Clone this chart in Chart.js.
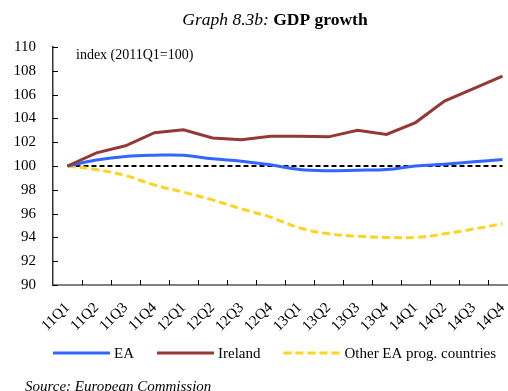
<!DOCTYPE html>
<html>
<head>
<meta charset="utf-8">
<script src="https://cdn.jsdelivr.net/npm/chart.js@4.4.1/dist/chart.umd.min.js"></script>
<style>
  html, body { margin: 0; padding: 0; background: #fff; overflow: hidden; }
  #wrap { position: relative; width: 508px; height: 391px; overflow: hidden; }
  #wrap canvas { position: absolute; left: 0; top: 0; }
</style>
</head>
<body>
<div id="wrap"><canvas id="gdp" width="530" height="391"></canvas></div>
<script>
// quarterly GDP index, 2011Q1 = 100
const quarters = ["11Q1", "11Q2", "11Q3", "11Q4", "12Q1", "12Q2", "12Q3", "12Q4",
                  "13Q1", "13Q2", "13Q3", "13Q4", "14Q1", "14Q2", "14Q3", "14Q4"];
const eaIndex = [100, 100.5, 100.8, 100.9, 100.9, 100.6, 100.4, 100.1,
                 99.7, 99.6, 99.65, 99.7, 100.0, 100.15, 100.35, 100.55];
const irelandIndex = [100, 101.1, 101.7, 102.8, 103.05, 102.35, 102.2, 102.5,
                      102.5, 102.45, 103.0, 102.65, 103.65, 105.45, 106.5, 107.55];
const otherProgIndex = [100, 99.7, 99.2, 98.4, 97.8, 97.15, 96.4, 95.7,
                        94.8, 94.3, 94.1, 94.0, 94.0, 94.3, 94.7, 95.15];
const baseLevel = [100, 100, 100, 100, 100, 100, 100, 100,
                   100, 100, 100, 100, 100, 100, 100, 100];
const yMin = 90, yMax = 110, yStep = 2;

const SERIF = '"Liberation Serif", "Times New Roman", serif';

// title, note, legend, source and the inward tick marks
const decorations = {
  id: "decorations",
  afterDraw(chart) {
    const { ctx, chartArea, scales } = chart;
    ctx.save();

    // inward tick marks on both axes
    ctx.strokeStyle = "#000";
    ctx.lineWidth = 1;
    ctx.beginPath();
    scales.y.ticks.forEach((t, i) => {
      const py = Math.round(scales.y.getPixelForTick(i)) + 0.5;
      ctx.moveTo(chartArea.left, py);
      ctx.lineTo(chartArea.left + 5, py);
    });
    for (let i = 1; i <= quarters.length; i++) {
      const px = Math.round(scales.x.getPixelForValue(i - 0.5)) + 0.5;
      ctx.moveTo(px, chartArea.bottom);
      ctx.lineTo(px, chartArea.bottom - 5);
    }
    ctx.stroke();

    // title
    ctx.fillStyle = "#000";
    ctx.textBaseline = "alphabetic";
    ctx.textAlign = "left";
    const part1 = "Graph 8.3b: ", part2 = "GDP growth";
    ctx.font = "italic 17.5px " + SERIF;
    const w1 = ctx.measureText(part1).width;
    ctx.font = "bold 17.5px " + SERIF;
    const w2 = ctx.measureText(part2).width;
    const tx = 275 - (w1 + w2) / 2;
    ctx.font = "italic 17.5px " + SERIF;
    ctx.fillText(part1, tx, 25);
    ctx.font = "bold 17.5px " + SERIF;
    ctx.fillText(part2, tx + w1, 25);

    // unit note inside the plot
    ctx.font = "14px " + SERIF;
    ctx.fillText("index (2011Q1=100)", chartArea.left + 23, 59);

    // legend
    let lx = chartArea.left;
    const ly = 353;
    chart.data.datasets.forEach(ds => {
      if (!ds.inLegend) return;
      ctx.save();
      ctx.strokeStyle = ds.borderColor;
      ctx.lineWidth = ds.borderWidth;
      ctx.setLineDash(ds.borderDash || []);
      ctx.beginPath();
      ctx.moveTo(lx, ly);
      ctx.lineTo(lx + 57, ly);
      ctx.stroke();
      ctx.restore();
      ctx.font = "15px " + SERIF;
      ctx.textBaseline = "middle";
      ctx.fillText(ds.label, lx + 61, ly + 1);
      lx += 61 + ctx.measureText(ds.label).width + 23;
    });

    // source line
    ctx.textBaseline = "alphabetic";
    ctx.font = "italic 15px " + SERIF;
    ctx.fillText("Source: European Commission", 25, 391);

    ctx.restore();
  }
};

new Chart(document.getElementById("gdp"), {
  type: "line",
  data: {
    labels: quarters,
    datasets: [
      {
        label: "EA",
        data: eaIndex,
        borderColor: "#3366ff",
        borderWidth: 3,
        tension: 0.4,
        inLegend: true,
        order: 1
      },
      {
        label: "Ireland",
        data: irelandIndex,
        borderColor: "#953735",
        borderWidth: 3,
        tension: 0,
        inLegend: true,
        order: 0
      },
      {
        label: "Other EA prog. countries",
        data: otherProgIndex,
        borderColor: "#ffd320",
        borderWidth: 3,
        borderDash: [8, 4],
        tension: 0.4,
        inLegend: true,
        order: 2
      },
      {
        label: "",
        data: baseLevel,
        borderColor: "#000",
        borderWidth: 2,
        borderDash: [5, 3],
        tension: 0,
        inLegend: false,
        order: 3
      }
    ]
  },
  options: {
    responsive: false,
    animation: false,
    layout: { padding: { top: 47, right: 13, left: 0, bottom: 0 } },
    elements: { point: { radius: 0, hoverRadius: 0 }, line: { borderCapStyle: "butt" } },
    plugins: {
      legend: { display: false },
      title: { display: false },
      tooltip: { enabled: false }
    },
    scales: {
      x: {
        offset: true,
        grid: { display: true, drawOnChartArea: false, drawTicks: false, offset: true },
        border: { display: true, color: "#808080", width: 2 },
        ticks: {
          color: "#000",
          font: { family: SERIF, size: 15 },
          minRotation: 45,
          maxRotation: 45,
          autoSkip: false,
          padding: 14
        },
        afterFit(scale) { scale.height = 106; }
      },
      y: {
        min: yMin,
        max: yMax,
        grid: { display: true, drawOnChartArea: false, drawTicks: false },
        border: { display: true, color: "#333", width: 1.5 },
        ticks: {
          stepSize: yStep,
          color: "#000",
          font: { family: SERIF, size: 15 },
          padding: 17
        },
        afterFit(scale) { scale.width = 53; }
      }
    }
  },
  plugins: [decorations]
});
</script>
</body>
</html>
